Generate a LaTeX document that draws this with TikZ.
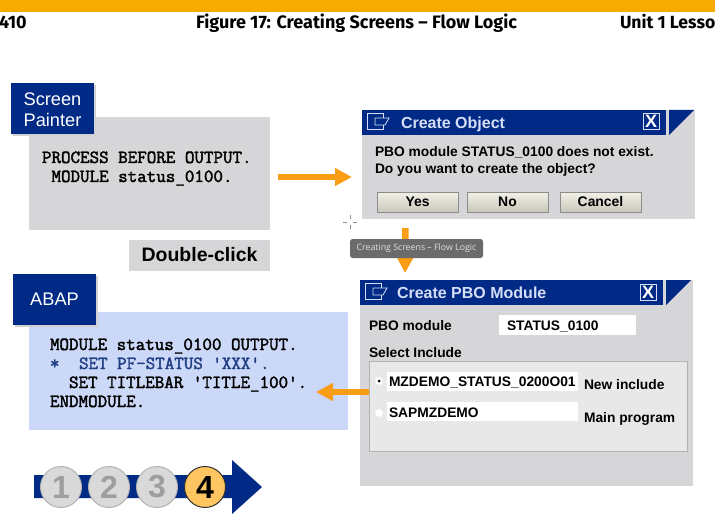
\documentclass[tikz,border=0pt]{standalone}
\usepackage{fontspec}
\setmainfont{Liberation Sans}
\newfontfamily\headfont{Fira Sans}
\newfontfamily\tipfont{Open Sans}
\newfontfamily\codefont[FakeBold=2]{Latin Modern Mono}
\usetikzlibrary{arrows.meta}
\definecolor{sapblue}{HTML}{002A86}
\definecolor{sapgold}{HTML}{F5AB00}
\definecolor{flow}{HTML}{FA9C14}
\definecolor{panelgray}{HTML}{D6D6D8}
\definecolor{abapblue}{HTML}{CBD8F7}
\definecolor{titletext}{HTML}{D5DEF6}
\definecolor{btntop}{HTML}{F2F1E6}
\definecolor{btnbot}{HTML}{C9C7BA}
\definecolor{stepgold}{HTML}{FFC561}
\tikzset{
  box/.style={inner sep=0pt, outer sep=0pt},
  headtext/.style={box, anchor=base west, font=\headfont\bfseries\fontsize{18}{18}\selectfont},
  tabbox/.style={box, fill=sapblue, text=white, align=left, font=\fontsize{18.2}{21}\selectfont,
    minimum width=83, minimum height=51},
  tabshadow/.style={fill=black!18},
  codetext/.style={box, anchor=base west, font=\codefont\fontsize{18.5}{18.5}\selectfont},
  labeltext/.style={box, anchor=base west, font=\bfseries\fontsize{13.8}{13.8}\selectfont},
  titlebar/.style={box, fill=sapblue, minimum height=25},
  titletxt/.style={box, anchor=base west, text=titletext, font=\bfseries\fontsize{16}{16}\selectfont},
  closebox/.style={box, draw=titletext, line width=0.8, minimum size=16, text=white,
    font=\bfseries\fontsize{18}{18}\selectfont},
  pushbtn/.style={box, draw=black!45, line width=0.8, top color=btntop, bottom color=btnbot,
    minimum width=81, minimum height=20, font=\bfseries\fontsize{13.9}{13.9}\selectfont},
  inputbox/.style={box, fill=white, minimum height=19},
  flowarrow/.style={draw=flow, line width=6.5, -{Triangle[length=17, width=17, fill=flow]}},
  stepdone/.style={circle, box, draw=black!30, line width=1, fill=black!15, text=black!38, minimum size=41,
    font=\bfseries\fontsize{32}{32}\selectfont},
  stepnow/.style={stepdone, draw=black!80, fill=stepgold, text=black},
}
\newcommand{\dlgicon}[2]{%
  \draw[titletext, line width=0.8] (#1+16,#2+5) -- (#1+16,#2) -- (#1,#2) -- (#1,#2+16) -- (#1+16,#2+16) -- (#1+16,#2+12);
  \draw[titletext, line width=0.8] (#1+8,#2+5) -- (#1+22,#2+5) -- (#1+18,#2+12) -- (#1+8,#2+12) -- cycle;
}
\begin{document}
\begin{tikzpicture}[x=1pt, y=-1pt]
  \useasboundingbox (0,0) rectangle (715,516);
  \fill[white] (0,0) rectangle (715,516);

  % page header
  \fill[sapgold] (0,0) rectangle (715,12);
  \node[headtext] (pageno) at (-1,29) {410};
  \node[headtext] (figtitle) at (196,29) {Figure 17: Creating Screens – Flow Logic};
  \node[headtext, font=\headfont\bfseries\fontsize{17.6}{17.6}\selectfont] (unitname) at (620,29) {Unit 1 Lesso};

  % screen painter
  \node[box, fill=panelgray, minimum width=241, minimum height=113] (painterbox) at (149.5,173.5) {};
  \fill[tabshadow] (13,85) rectangle (96,136);
  \node[tabbox] (paintertab) at (52.5,108.5) {};
  \node[tabbox, fill=none, minimum width=0, minimum height=0] (paintertext) at (52.5,109.5) {Screen\\Painter};
  \node[codetext] (pbo1) at (42,163) {PROCESS BEFORE OUTPUT.};
  \node[codetext] (pbo2) at (51.5,182) {MODULE status\_0100.};
  \node[box, fill=panelgray, minimum width=141, minimum height=31, font=\bfseries\fontsize{19.5}{19.5}\selectfont]
    (dblclick) at (199.5,255) {Double-click};

  % abap
  \node[box, fill=abapblue, minimum width=319, minimum height=118] (abapbox) at (188.5,371) {};
  \fill[tabshadow] (15,276) rectangle (98,327);
  \node[tabbox] (abaptab) at (54.5,299.5) {ABAP};
  \node[codetext] (abap1) at (50,350) {MODULE status\_0100 OUTPUT.};
  \node[codetext, text=sapblue!75!gray] (abap2) at (50,369) {*};
  \node[codetext, text=sapblue!75!gray] (abap3) at (79,369) {SET PF-STATUS 'XXX'.};
  \node[codetext] (abap4) at (69,388) {SET TITLEBAR 'TITLE\_100'.};
  \node[codetext] (abap5) at (50,407) {ENDMODULE.};

  % create object dialog
  \node[box, fill=panelgray, minimum width=333, minimum height=109] (objdialog) at (528.5,164.5) {};
  \node[titlebar, minimum width=304] (objbar) at (514,122.5) {};
  \fill[sapblue] (669,110) -- (694,110) -- (669,135) -- cycle;
  \dlgicon{367}{113}
  \node[titletxt] (objtitle) at (401,128.5) {Create Object};
  \node[closebox] (objclose) at (651,121) {X};
  \node[labeltext] (objmsg1) at (375,156.5) {PBO module STATUS\_0100 does not exist.};
  \node[labeltext] (objmsg2) at (375,173.5) {Do you want to create the object?};
  \node[pushbtn] (btnyes) at (417.5,202) {Yes};
  \node[pushbtn] (btnno) at (507.5,202) {No};
  \node[pushbtn] (btncancel) at (600.5,202) {Cancel};

  % create pbo module dialog
  \node[box, fill=panelgray, minimum width=333, minimum height=206] (pbodialog) at (526.5,383) {};
  \node[titlebar, minimum width=303] (pbobar) at (511.5,292.5) {};
  \fill[sapblue] (666,280) -- (691,280) -- (666,305) -- cycle;
  \dlgicon{365}{283}
  \node[titletxt] (pbotitle) at (397,298.5) {Create PBO Module};
  \node[closebox] (pboclose) at (648,292) {X};
  \node[labeltext] (pbolabel) at (369,330) {PBO module};
  \node[inputbox, minimum width=137, minimum height=20] (pbofield) at (567.5,325) {};
  \node[labeltext] (pboname) at (507,330) {STATUS\_0100};
  \node[labeltext] (sellabel) at (369,357) {Select Include};
  \node[box, draw=black!30, line width=0.8, fill=black!9, minimum width=318, minimum height=90] (includebox) at (528,406.5) {};
  \node[inputbox, minimum width=191] (newfield) at (482.5,381) {};
  \node[inputbox, minimum width=191] (mainfield) at (482.5,411.5) {};
  \node[labeltext] (newname) at (389,386) {MZDEMO\_STATUS\_0200O01};
  \node[labeltext] (mainname) at (389,417) {SAPMZDEMO};
  \node[labeltext] (newlabel) at (584,389) {New include};
  \node[labeltext] (mainlabel) at (584,422) {Main program};
  \fill[white] (379,381) circle (4);
  \fill[black] (379,381) circle (1.5);
  \fill[white] (379,413) circle (4);

  % arrows between panels
  \draw[flowarrow, shorten <=8, shorten >=10] ([yshift=-3.5]painterbox.east) -- ([yshift=-12.5]objdialog.west);
  \draw[flowarrow, shorten <=9, shorten >=7] ([xshift=-123]objdialog.south) -- ([xshift=-121.5]pbodialog.north);
  \draw[flowarrow, shorten >=-32] ([yshift=14.5]includebox.west) -- ([yshift=-21]abapbox.east);

  % tooltip and cursor
  \node[box, rounded corners=2.5, fill=black!58, text=black!12, minimum width=133, minimum height=19,
    font=\tipfont\fontsize{8.8}{8.8}\selectfont] (tooltip) at (416.5,248.5) {Creating Screens – Flow Logic};
  \coordinate (cursor) at (350,222);
  \draw[black!45, line width=0.8] ([xshift=-7]cursor) -- ([xshift=-3]cursor);
  \draw[black!45, line width=0.8] ([xshift=3]cursor) -- ([xshift=7]cursor);
  \draw[black!45, line width=0.8] ([yshift=7]cursor) -- ([yshift=3]cursor);
  \draw[black!45, line width=0.8] ([yshift=-3]cursor) -- ([yshift=-7]cursor);

  % step marker
  \fill[sapblue] (34,475) -- (232,475) -- (232,460) -- (262,487) -- (232,514) -- (232,498) -- (34,498) -- cycle;
  \foreach \n/\xpos in {1/61,2/109,3/157}
    \node[stepdone] (step\n) at (\xpos,487) {\n};
  \node[stepnow] (step4) at (205,487) {4};
\end{tikzpicture}
\end{document}
